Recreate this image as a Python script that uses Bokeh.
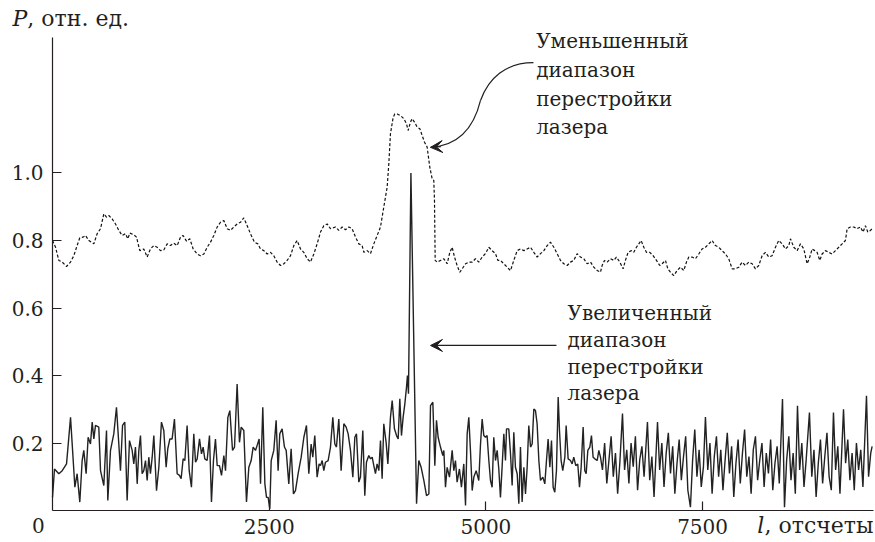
from bokeh.plotting import figure
from bokeh.models import (FixedTicker, PrintfTickFormatter, Label, Arrow, VeeHead,
                          Range1d, LinearAxis)
from bokeh.embed import file_html
from bokeh.resources import INLINE

# ---- data: solid line (increased tuning range) ----
solid_x = [0, 23, 73, 112, 162, 208, 258, 284, 315, 342, 361, 388, 411, 438, 458, 477, 496, 534, 554, 592,
           623, 638, 669, 707, 738, 765, 784, 808, 834, 861, 888, 919, 938, 957, 977, 996, 1015, 1034, 1053, 1073,
           1092, 1111, 1130, 1150, 1169, 1200, 1227, 1257, 1284, 1311, 1330, 1354, 1380, 1407, 1438, 1465, 1484, 1507, 1527, 1553,
           1577, 1603, 1630, 1650, 1669, 1696, 1719, 1738, 1757, 1784, 1811, 1834, 1857, 1880, 1900, 1926, 1950, 1977, 1996, 2023,
           2046, 2077, 2100, 2130, 2157, 2177, 2207, 2238, 2265, 2292, 2315, 2342, 2361, 2384, 2400, 2426, 2450, 2469, 2488, 2507,
           2523, 2553, 2580, 2603, 2622, 2649, 2676, 2696, 2726, 2753, 2780, 2803, 2834, 2869, 2900, 2930, 2957, 2984, 3003, 3026,
           3053, 3076, 3092, 3111, 3130, 3149, 3180, 3207,
           3234, 3257, 3276, 3303, 3330, 3361, 3388, 3411, 3438, 3465, 3488, 3507, 3534, 3553, 3580, 3603, 3622, 3649, 3669, 3688,
           3707, 3726, 3745, 3765, 3784, 3803, 3822, 3849, 3869, 3899, 3919, 3945, 3969, 3988, 4007, 4026, 4045, 4065, 4084, 4095,
           4107, 4135, 4200, 4226, 4253, 4284, 4315, 4342, 4361, 4388, 4411, 4430, 4449, 4476, 4503, 4515, 4534, 4553, 4580, 4611,
           4630, 4649, 4668, 4695, 4718, 4745, 4765, 4784, 4803, 4822, 4842, 4861, 4888, 4918, 4938, 4957, 4976, 4995, 5014, 5034,
           5053, 5072, 5091, 5111, 5130, 5149, 5168, 5188, 5207, 5226, 5238, 5264, 5284, 5303, 5322, 5341, 5361, 5380, 5399, 5418,
           5438, 5457, 5476, 5495, 5515, 5534, 5553, 5572, 5591, 5611, 5630, 5657, 5680, 5699, 5718, 5738, 5757, 5776, 5795, 5814,
           5834, 5849, 5868, 5887, 5911, 5926, 5949, 5976, 5995, 6014, 6037, 6060, 6080, 6099, 6122, 6141, 6157, 6176, 6199, 6218,
           6237, 6257, 6284, 6303, 6322,
           6345, 6370, 6395, 6420, 6445, 6470, 6495, 6520, 6545, 6576, 6600, 6625, 6650, 6675, 6700, 6725, 6750, 6775, 6800, 6825,
           6864, 6890, 6915, 6940, 6980, 7005, 7030, 7055, 7080, 7105, 7130, 7155, 7180, 7205, 7230, 7255, 7280, 7305, 7330, 7360,
           7385, 7410, 7435, 7460, 7485, 7510, 7533, 7560, 7585, 7610, 7635, 7660, 7685, 7710, 7735, 7760, 7785, 7810, 7835, 7860,
           7885, 7910, 7935, 7960, 7985, 8010, 8035, 8060, 8085, 8110, 8135, 8160, 8185, 8210, 8235, 8260, 8285, 8310, 8335, 8360,
           8385, 8422, 8445, 8470, 8495, 8520, 8545, 8570, 8595, 8620, 8645, 8670, 8695, 8733, 8760, 8785, 8810, 8835, 8860, 8885,
           8910, 8935, 8960, 8985, 9010, 9035, 9060, 9085, 9126, 9150, 9175, 9200, 9225, 9250, 9275, 9300, 9325, 9350, 9391, 9415,
           9440, 9456]
solid_y = [0.039, 0.123, 0.109, 0.118, 0.138, 0.276, 0.069, 0.109, 0.025, 0.148,
           0.178, 0.109, 0.217, 0.197, 0.262, 0.212, 0.252, 0.247, 0.118, 0.074,
           0.237, 0.030, 0.178, 0.227, 0.306, 0.197, 0.118, 0.252, 0.262, 0.030,
           0.207, 0.178, 0.138, 0.188, 0.079, 0.178, 0.222, 0.109, 0.118, 0.148,
           0.089, 0.158, 0.109, 0.158, 0.222, 0.059, 0.128, 0.262, 0.237, 0.128,
           0.183, 0.212, 0.212, 0.271, 0.109, 0.104, 0.094, 0.153, 0.148, 0.252,
           0.118, 0.069, 0.227, 0.143, 0.153, 0.212, 0.168, 0.188, 0.153, 0.148,
           0.222, 0.025, 0.148, 0.212, 0.133, 0.133, 0.104, 0.163, 0.118, 0.276,
           0.296, 0.178, 0.188, 0.375, 0.202, 0.247, 0.237, 0.025, 0.128, 0.148,
           0.188, 0.178, 0.193, 0.212, 0.079, 0.306, 0.079, 0.039, 0.039, 0.005,
           0.148, 0.178, 0.267, 0.118, 0.227, 0.242, 0.188, 0.178, 0.079, 0.183,
           0.049, 0.059, 0.109, 0.158, 0.217, 0.252, 0.109, 0.197, 0.158, 0.222,
           0.099, 0.138, 0.133, 0.148, 0.118, 0.143, 0.148, 0.188,
           0.276, 0.197, 0.188, 0.271, 0.118, 0.257, 0.247, 0.227, 0.178, 0.099, 0.217, 0.227, 0.084, 0.099, 0.237, 0.044, 0.143, 0.163, 0.153, 0.158,
           0.133, 0.109, 0.138, 0.118, 0.207, 0.094, 0.257, 0.202, 0.138, 0.276, 0.326, 0.242, 0.222, 0.212, 0.331, 0.222, 0.276, 0.316, 0.365, 0.400,
           0.346, 1.000, 0.020, 0.148, 0.128, 0.089, 0.044, 0.049, 0.311, 0.321, 0.133, 0.267, 0.217, 0.188, 0.163, 0.178, 0.069, 0.128, 0.099, 0.178,
           0.118, 0.148, 0.084, 0.123, 0.069, 0.138, 0.015, 0.227, 0.276, 0.178, 0.059, 0.099, 0.118, 0.089, 0.197, 0.271, 0.222, 0.217, 0.222, 0.148,
           0.089, 0.069, 0.217, 0.148, 0.178, 0.123, 0.039, 0.133, 0.227, 0.148, 0.242, 0.242, 0.168, 0.074, 0.232, 0.128, 0.109, 0.020, 0.188, 0.025,
           0.128, 0.049, 0.128, 0.252, 0.188, 0.197, 0.301, 0.296, 0.257, 0.148, 0.089, 0.099, 0.079, 0.148, 0.212, 0.128, 0.207, 0.069, 0.054, 0.118,
           0.336, 0.237, 0.148, 0.118, 0.158, 0.252, 0.153, 0.148, 0.138, 0.158, 0.133, 0.138, 0.069, 0.128, 0.247, 0.118, 0.109, 0.178, 0.188, 0.222,
           0.158, 0.153, 0.148, 0.178, 0.158,
           0.12, 0.20, 0.08, 0.15, 0.22, 0.10, 0.17, 0.05, 0.14, 0.287, 0.12, 0.18, 0.08, 0.20, 0.13, 0.22, 0.06, 0.15, 0.19, 0.10,
           0.262, 0.09, 0.16, 0.04, 0.262, 0.12, 0.20, 0.07, 0.17, 0.23, 0.11, 0.19, 0.05, 0.14, 0.21, 0.09, 0.16, 0.22, 0.06, 0.01,
           0.15, 0.24, 0.10, 0.18, 0.07, 0.13, 0.277, 0.12, 0.20, 0.05, 0.16, 0.22, 0.10, 0.18, 0.06, 0.15, 0.23, 0.11, 0.19, 0.04,
           0.14, 0.21, 0.08, 0.17, 0.24, 0.10, 0.16, 0.05, 0.18, 0.22, 0.09, 0.15, 0.20, 0.07, 0.17, 0.11, 0.21, 0.06, 0.14, 0.19,
           0.08, 0.33, 0.01, 0.15, 0.22, 0.09, 0.17, 0.05, 0.31, 0.12, 0.20, 0.07, 0.15, 0.29, 0.10, 0.18, 0.04, 0.14, 0.21, 0.08,
           0.16, 0.23, 0.10, 0.06, 0.29, 0.12, 0.19, 0.05, 0.30, 0.14, 0.21, 0.09, 0.17, 0.06, 0.20, 0.12, 0.18, 0.07, 0.34, 0.10,
           0.17, 0.19]

# ---- data: dashed line (reduced tuning range) ----
dash_x = [0, 35, 73, 112, 162, 208, 246, 284, 315, 354, 380, 419, 477, 515, 554, 592, 623, 650, 688, 727,
          765, 803, 842, 869, 892, 938, 969, 1007, 1053, 1092, 1130, 1169, 1207, 1246, 1284, 1323, 1361, 1400, 1438, 1477,
          1507, 1546, 1584, 1623, 1669, 1707, 1746, 1784, 1823, 1861, 1900, 1938, 1977, 2015, 2053, 2092, 2130, 2169, 2207, 2246,
          2284, 2330, 2369, 2400, 2438, 2477, 2515, 2553, 2592, 2630, 2669, 2707, 2746, 2784, 2823, 2861, 2899, 2938, 2976, 3015,
          3053, 3092, 3130, 3169, 3207,
          3265, 3303, 3342, 3380, 3419, 3457, 3496, 3534, 3572, 3592, 3630, 3669, 3707, 3746, 3784, 3822, 3861, 3880, 3899, 3930,
          3949, 3976, 4015, 4053, 4084, 4103, 4130, 4149, 4176, 4207, 4238, 4265, 4292, 4322, 4353, 4380, 4399, 4407, 4415, 4438,
          4476, 4515, 4553, 4584, 4611, 4638, 4668, 4699, 4726, 4765, 4803, 4842, 4880, 4918, 4957, 4995, 5034, 5072, 5111, 5138,
          5168, 5207, 5245, 5284, 5322, 5361, 5399, 5438, 5476, 5515, 5553, 5591, 5630, 5669, 5707, 5745, 5784, 5822, 5861, 5899,
          5938, 5976, 6014, 6053, 6091, 6130, 6168, 6207, 6245, 6284, 6322,
          6341, 6368, 6399, 6437, 6476, 6506, 6545, 6583, 6610, 6641, 6679, 6706, 6737, 6764, 6791, 6822, 6852, 6891, 6929, 6968,
          7006, 7033, 7072, 7099, 7129, 7168, 7206, 7245, 7283, 7314, 7341, 7379, 7418, 7456, 7495, 7533, 7572, 7610, 7648, 7687,
          7725, 7764, 7802, 7841, 7879, 7918, 7956, 7995, 8033, 8072, 8110, 8148, 8187, 8225, 8264, 8302, 8341, 8379, 8418, 8456,
          8495, 8514, 8552, 8591, 8629, 8668, 8706, 8737, 8764, 8794, 8821, 8852, 8879, 8918, 8956, 8994, 9033, 9071, 9110, 9148,
          9168, 9206, 9244, 9283, 9321, 9352, 9379, 9406, 9437, 9456]
dash_y = [0.800, 0.780, 0.741, 0.736, 0.723, 0.736, 0.755, 0.785, 0.808, 0.810, 0.815, 0.800, 0.790, 0.820, 0.835, 0.879, 0.869, 0.874, 0.864, 0.849,
          0.830, 0.815, 0.820, 0.805, 0.822, 0.817, 0.810, 0.770, 0.775, 0.751, 0.775, 0.785, 0.780, 0.770, 0.772, 0.790, 0.785, 0.792, 0.785, 0.810,
          0.815, 0.798, 0.805, 0.775, 0.760, 0.755, 0.760, 0.780, 0.795, 0.815, 0.840, 0.854, 0.859, 0.835, 0.830, 0.840, 0.849, 0.854, 0.867, 0.844,
          0.820, 0.795, 0.790, 0.775, 0.770, 0.760, 0.765, 0.755, 0.736, 0.726, 0.731, 0.741, 0.755, 0.785, 0.800, 0.775, 0.765, 0.746, 0.736, 0.760,
          0.790, 0.825, 0.844, 0.849, 0.835,
          0.840, 0.830, 0.840, 0.832, 0.840, 0.835, 0.810, 0.790, 0.785, 0.765, 0.770, 0.761, 0.790, 0.815, 0.840, 0.899, 0.958, 1.027, 1.116, 1.165,
          1.175, 1.175, 1.170, 1.161, 1.146, 1.126, 1.151, 1.161, 1.151, 1.136, 1.131, 1.111, 1.091, 1.077, 1.017, 0.983, 0.978, 0.919, 0.741, 0.736,
          0.741, 0.746, 0.731, 0.765, 0.780, 0.751, 0.726, 0.706, 0.716, 0.731, 0.736, 0.736, 0.746, 0.736, 0.751, 0.761, 0.780, 0.770, 0.761, 0.741,
          0.741, 0.731, 0.721, 0.711, 0.741, 0.770, 0.775, 0.770, 0.775, 0.780, 0.765, 0.751, 0.761, 0.770, 0.785, 0.795, 0.780, 0.761, 0.741, 0.731,
          0.726, 0.736, 0.741, 0.761, 0.751, 0.746, 0.731, 0.736, 0.721, 0.711, 0.706,
          0.726, 0.741, 0.736, 0.746, 0.741, 0.751, 0.736, 0.716, 0.741, 0.765, 0.770, 0.765, 0.780, 0.790, 0.800, 0.780, 0.765, 0.765, 0.755, 0.741,
          0.726, 0.731, 0.741, 0.716, 0.706, 0.696, 0.711, 0.721, 0.711, 0.736, 0.751, 0.751, 0.746, 0.760, 0.775, 0.780, 0.790, 0.800, 0.785, 0.780,
          0.770, 0.760, 0.746, 0.716, 0.716, 0.721, 0.736, 0.726, 0.736, 0.731, 0.716, 0.726, 0.755, 0.765, 0.751, 0.755, 0.780, 0.800, 0.790, 0.775,
          0.785, 0.805, 0.780, 0.770, 0.790, 0.775, 0.731, 0.751, 0.775, 0.770, 0.765, 0.741, 0.760, 0.770, 0.765, 0.760, 0.770, 0.780, 0.790, 0.800,
          0.835, 0.840, 0.840, 0.835, 0.840, 0.825, 0.844, 0.825, 0.830, 0.835]

x_ticks = [2500, 5000, 7500]
y_ticks = [0.2, 0.4, 0.6, 0.8, 1.0]

FONT = "DejaVu Serif"
TICK_SIZE = "20px"
TITLE_SIZE = "22px"
NOTE_SIZE = "20px"
INK = "#231f20"

# the frame fills the whole page; axes are pinned at x=0 / y=0
p = figure(width=875, height=542, x_range=Range1d(-600, 9495), y_range=Range1d(-0.0948, 1.5111),
           output_backend="svg", toolbar_location=None,
           x_axis_location=None, y_axis_location=None,
           min_border=0, background_fill_color="white", border_fill_color="white",
           outline_line_color=None)
p.grid.visible = False

xax = LinearAxis(fixed_location=0, bounds=(0, 9472), ticker=FixedTicker(ticks=x_ticks),
                 formatter=PrintfTickFormatter(format="%d"))
yax = LinearAxis(fixed_location=0, bounds=(0, 1.4), ticker=FixedTicker(ticks=y_ticks),
                 formatter=PrintfTickFormatter(format="%.1f"))
for ax in (xax, yax):
    ax.axis_line_color = INK
    ax.axis_line_width = 1.2
    ax.major_tick_line_color = INK
    ax.major_tick_line_width = 1.2
    ax.major_tick_in = 9
    ax.major_tick_out = 0
    ax.minor_tick_line_color = None
    ax.major_label_text_font = FONT
    ax.major_label_text_font_size = TICK_SIZE
    ax.major_label_text_color = INK
xax.major_label_standoff = 8
yax.major_label_standoff = 9
p.add_layout(xax, "below")
p.add_layout(yax, "left")

p.line(dash_x, dash_y, line_color="#111111", line_width=1.2, line_dash="3 2")
p.line(solid_x, solid_y, line_color="#222222", line_width=1.4)

def lab(x, y, text, size, style="normal", align="left", base="alphabetic"):
    p.add_layout(Label(x=x, y=y, text=text, text_font=FONT, text_font_size=size,
                       text_font_style=style, text_color=INK, text_align=align,
                       text_baseline=base))

# axis titles and zero label
lab(-162, -0.045, "0", TICK_SIZE, align="center", base="middle")
lab(-462, 1.458, "P", TITLE_SIZE, style="italic", base="middle")
lab(-290, 1.458, ", отн. ед.", TITLE_SIZE, base="middle")
lab(8130, -0.045, "l", TITLE_SIZE, style="italic", base="middle")
lab(8215, -0.045, ", отсчеты", TITLE_SIZE, base="middle")

# annotation texts
for t, yy in zip(["Уменьшенный", "диапазон", "перестройки", "лазера"], [1.391, 1.304, 1.219, 1.135]):
    lab(5580, yy, t, NOTE_SIZE)
for t, yy in zip(["Увеличенный", "диапазон", "перестройки", "лазера"], [0.584, 0.504, 0.424, 0.347]):
    lab(5941, yy, t, NOTE_SIZE)

# curved arrow to the dashed curve
p.bezier(x0=[5549, 4938], y0=[1.327, 1.215], x1=[4938, 4361], y1=[1.215, 1.076],
         cx0=[5226, 4868], cy0=[1.327, 1.141], cx1=[5030, 4707], cy1=[1.280, 1.081],
         line_color=INK, line_width=1.2)
p.add_layout(Arrow(end=VeeHead(size=12, fill_color=INK, line_color=INK),
                   x_start=4480, y_start=1.078, x_end=4361, y_end=1.076,
                   line_color=INK, line_width=1.2))
# straight arrow to the solid curve
p.add_layout(Arrow(end=VeeHead(size=12, fill_color=INK, line_color=INK),
                   x_start=5814, y_start=0.489, x_end=4361, y_end=0.489,
                   line_color=INK, line_width=1.2))

open("out.html", "w").write(file_html(p, INLINE))
